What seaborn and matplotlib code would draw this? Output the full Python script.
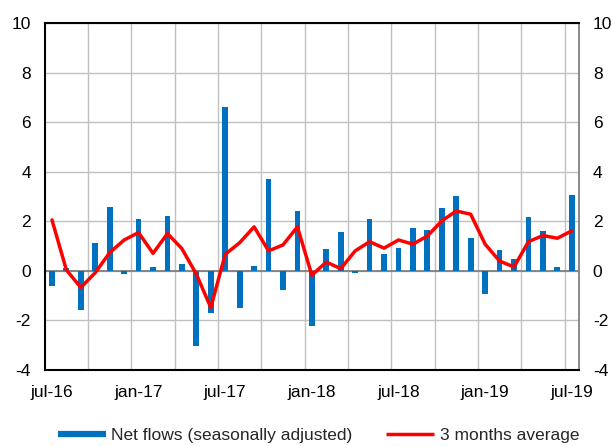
import numpy as np
import pandas as pd
import matplotlib
matplotlib.use("Agg")
import matplotlib.pyplot as plt
from matplotlib.lines import Line2D
import seaborn as sns

# monthly data jul-16 .. jul-19
months = ["jul-16", "aug-16", "sep-16", "oct-16", "nov-16", "dec-16",
          "jan-17", "feb-17", "mar-17", "apr-17", "may-17", "jun-17",
          "jul-17", "aug-17", "sep-17", "oct-17", "nov-17", "dec-17",
          "jan-18", "feb-18", "mar-18", "apr-18", "may-18", "jun-18",
          "jul-18", "aug-18", "sep-18", "oct-18", "nov-18", "dec-18",
          "jan-19", "feb-19", "mar-19", "apr-19", "may-19", "jun-19",
          "jul-19"]
net_flows = [-0.60, 0.10, -1.57, 1.14, 2.60, -0.13,
             2.10, 0.15, 2.23, 0.27, -3.04, -1.68,
             6.62, -1.48, 0.19, 3.70, -0.78, 2.42,
             -2.22, 0.90, 1.57, -0.10, 2.10, 0.67,
             0.92, 1.72, 1.66, 2.56, 3.01, 1.33,
             -0.92, 0.85, 0.47, 2.19, 1.60, 0.15,
             3.07]
avg_3m = [2.06, 0.04, -0.67, -0.07, 0.74, 1.25,
          1.55, 0.71, 1.51, 0.90, -0.13, -1.48,
          0.67, 1.14, 1.78, 0.81, 1.05, 1.78,
          -0.17, 0.36, 0.09, 0.81, 1.18, 0.92,
          1.25, 1.08, 1.41, 2.02, 2.42, 2.29,
          1.08, 0.40, 0.16, 1.18, 1.43, 1.32,
          1.62]
label_months = ["jul-16", "jan-17", "jul-17", "jan-18", "jul-18", "jan-19", "jul-19"]

df = pd.DataFrame({"month": months, "net": net_flows, "avg": avg_3m})
df["pos"] = np.arange(len(df))

sns.set_style("white")
plt.rcParams["font.family"] = ["Liberation Sans", "DejaVu Sans"]
plt.rcParams["axes.unicode_minus"] = False

fig = plt.figure(figsize=(6.11, 4.46), dpi=100)
ax = fig.add_axes([0.0732, 0.1704, 0.8744, 0.7774])

blue = "#0070C0"
red = "#FF0000"

sns.barplot(data=df, x="month", y="net", order=months, color=blue,
            width=0.4, saturation=1, linewidth=0, ax=ax, zorder=3)
sns.lineplot(data=df, x="pos", y="avg", color=red, linewidth=2.5,
             ax=ax, zorder=4)

ax.set_xlim(-0.5, len(months) - 0.5)
ax.set_ylim(-4, 10)
ax.set_yticks(np.arange(-4, 11, 2))

# category boundaries every 3 months as gridlines
ax.set_xticks(np.arange(2.5, len(months) - 1, 3), minor=True)
ax.set_xticks([months.index(m) for m in label_months])
ax.set_xticklabels(label_months)
ax.grid(True, which="minor", axis="x", color="#c0c0c0", linewidth=1.0, zorder=0)
ax.grid(True, which="major", axis="y", color="#c0c0c0", linewidth=1.0, zorder=0)
ax.grid(False, which="major", axis="x")
ax.axhline(0, color="#808080", linewidth=1.3, zorder=2)
ax.set_axisbelow(True)

ax.tick_params(axis="both", which="both", length=0, labelsize=12.5,
               labelcolor="black")
ax.tick_params(axis="y", labelright=True, pad=10)
ax.tick_params(axis="x", pad=11)
ax.set_xlabel("")
ax.set_ylabel("")

for s in ["left", "top", "bottom"]:
    ax.spines[s].set_color("black")
    ax.spines[s].set_linewidth(1.5)
ax.spines["right"].set_color("#808080")
ax.spines["right"].set_linewidth(1.3)

handles = [Line2D([0], [0], color=blue, linewidth=4.5, solid_capstyle="butt"),
           Line2D([0], [0], color=red, linewidth=2.5, solid_capstyle="butt")]
fig.legend(handles, ["Net flows (seasonally adjusted)", "3 months average"],
           loc="center", bbox_to_anchor=(0.521, 0.024), ncol=2, frameon=False,
           fontsize=12.5, handlelength=2.8, handletextpad=0.3,
           columnspacing=1.9, borderpad=0.2)

fig.savefig("out.png", dpi=100)
